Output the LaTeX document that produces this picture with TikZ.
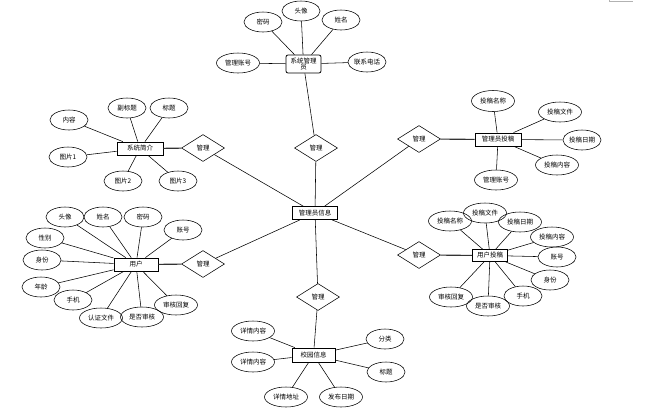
\documentclass[tikz,border=0pt]{standalone}
\usepackage{fontspec}
\newfontfamily\cjk{Noto Sans CJK SC}
\usetikzlibrary{shapes.geometric}
\begin{document}
\begin{tikzpicture}[x=1pt,y=-1pt,
  font=\cjk\fontsize{6.5}{7}\selectfont,
  line width=0.55pt,
  attr/.style={ellipse,draw,minimum width=38pt,minimum height=20pt,inner sep=0pt},
  wattr/.style={attr,minimum width=43pt},
  ent/.style={rectangle,draw,line width=0.8pt,minimum width=45pt,minimum height=13pt,inner sep=0pt},
  rel/.style={diamond,draw,minimum width=43pt,minimum height=27pt,inner sep=0pt},
  link/.style={line width=1.1pt,draw=black!80}]
\useasboundingbox (0,0) rectangle (656,408);
\draw[gray!60,line width=0.6pt] (609,0) -- (609,1.5) -- (633,1.5);

% center
\node[ent] (c) at (315,213) {管理员信息};

% relations
\node[rel] (rt) at (316,148) {管理};
\node[rel] (rl1) at (203,148) {管理};
\node[rel] (rl2) at (203,264) {管理};
\node[rel] (rr1) at (419,139) {管理};
\node[rel] (rr2) at (419,255) {管理};
\node[rel] (rb) at (318,297) {管理};

% entities
\node[ent,rounded corners=2pt,minimum width=35pt,minimum height=18pt,align=center,font=\cjk\fontsize{6.5}{6.5}\selectfont] (sa) at (303.5,64) {系统管理\\员};
\node[ent,minimum width=46pt] (sj) at (140,148.5) {系统简介};
\node[ent,minimum width=46pt] (gt) at (498,139.5) {管理员投稿};
\node[ent,minimum width=44pt] (yh) at (136,264.5) {用户};
\node[ent,minimum width=35pt,minimum height=12pt] (yt) at (490,255.5) {用户投稿};
\node[ent,minimum width=43pt,minimum height=14pt] (xy) at (313.5,355) {校园信息};

% center links
\draw (c) -- (rt); \draw (rt) -- (sa);
\draw (c) -- (rl1); \draw[link] (rl1) -- (sj);
\draw (c) -- (rl2); \draw[link] (rl2) -- (yh);
\draw (c) -- (rr1); \draw[link] (rr1) -- (gt);
\draw (c) -- (rr2); \draw[link] (rr2) -- (yt);
\draw (c) -- (rb); \draw (rb) -- (xy);

% 系统管理员 attributes
\node[attr] (sa1) at (263,22) {密码};
\node[attr] (sa2) at (301,11) {头像};
\node[attr] (sa3) at (341,20) {姓名};
\node[wattr] (sa4) at (238,63) {管理账号};
\node[attr] (sa5) at (367,62) {联系电话};
\foreach \a in {sa1,sa2,sa3,sa4,sa5} \draw (\a) -- (sa);

% 系统简介 attributes
\node[attr] (sj1) at (69,120) {内容};
\node[attr] (sj2) at (127,108) {副标题};
\node[attr] (sj3) at (169,108) {标题};
\node[attr] (sj4) at (68,157) {图片1};
\node[attr] (sj5) at (123,181) {图片2};
\node[attr] (sj6) at (178,181) {图片3};
\foreach \a in {sj1,sj2,sj3,sj4,sj5,sj6} \draw (\a) -- (sj);

% 管理员投稿 attributes
\node[wattr,minimum height=21pt] (gt1) at (493,101) {投稿名称};
\node[wattr] (gt2) at (560,112) {投稿文件};
\node[attr] (gt3) at (582,140) {投稿日期};
\node[wattr] (gt4) at (557,165) {投稿内容};
\node[wattr] (gt5) at (496,180) {管理账号};
\foreach \a in {gt1,gt2,gt3,gt4,gt5} \draw (\a) -- (gt);

% 用户 attributes
\node[attr] (yh1) at (65,217) {头像};
\node[attr] (yh2) at (103,217) {姓名};
\node[attr] (yh3) at (143,217) {密码};
\node[attr] (yh4) at (183,230) {账号};
\node[attr] (yh5) at (45,238) {性别};
\node[attr] (yh6) at (42,260) {身份};
\node[attr] (yh7) at (41,287) {年龄};
\node[attr] (yh8) at (73,300) {手机};
\node[wattr] (yh9) at (101,318) {认证文件};
\node[wattr] (yh10) at (142,317) {是否审核};
\node[wattr] (yh11) at (176,305) {审核回复};
\foreach \a in {yh1,yh2,yh3,yh4,yh5,yh6,yh7,yh8,yh9,yh10,yh11} \draw (\a) -- (yh);

% 用户投稿 attributes
\node[wattr] (yt1) at (450,221) {投稿名称};
\node[wattr] (yt2) at (485,213) {投稿文件};
\node[wattr] (yt3) at (520,222) {投稿日期};
\node[wattr] (yt4) at (552,237) {投稿内容};
\node[attr] (yt5) at (557,257) {账号};
\node[attr] (yt6) at (550,280) {身份};
\node[attr] (yt7) at (523,296) {手机};
\node[wattr] (yt8) at (488,306) {是否审核};
\node[wattr] (yt9) at (451,297) {审核回复};
\foreach \a in {yt1,yt2,yt3,yt4,yt5,yt6,yt7,yt8,yt9} \draw (\a) -- (yt);

% 校园信息 attributes
\node[wattr] (xy1) at (253,331) {详情内容};
\node[wattr] (xy2) at (253,362) {详情内容};
\node[wattr] (xy3) at (286,397) {详情地址};
\node[wattr] (xy4) at (341,397) {发布日期};
\node[attr] (xy5) at (385,339) {分类};
\node[attr] (xy6) at (386,372) {标题};
\foreach \a in {xy1,xy2,xy3,xy4,xy5,xy6} \draw (\a) -- (xy);
\end{tikzpicture}
\end{document}
